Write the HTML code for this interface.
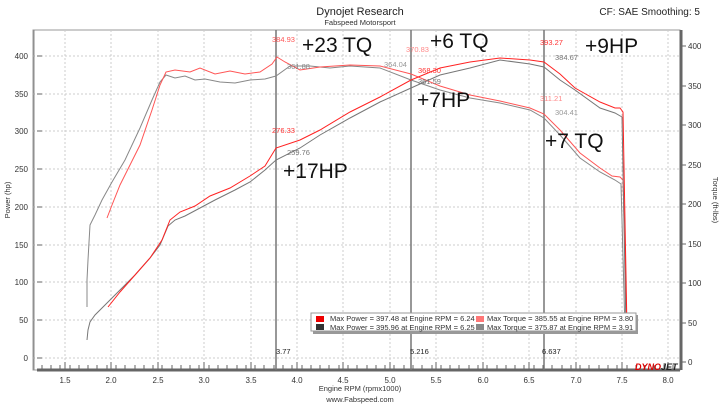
<!DOCTYPE html><html><head><style>body{margin:0;background:#fff}svg{display:block}text{font-family:"Liberation Sans",sans-serif}</style></head><body>
<svg width="720" height="404" viewBox="0 0 720 404" xmlns="http://www.w3.org/2000/svg">
<rect width="720" height="404" fill="#fff"/>
<text x="360" y="15" font-size="11" text-anchor="middle" fill="#222">Dynojet Research</text>
<text x="360" y="25" font-size="7.5" text-anchor="middle" fill="#333">Fabspeed Motorsport</text>
<text x="700" y="15" font-size="10" text-anchor="end" fill="#222">CF: SAE Smoothing: 5</text>
<rect x="33" y="30" width="647" height="340" fill="none" stroke="#999" stroke-width="1"/>
<g stroke="#ccc" stroke-dasharray="2,2" stroke-width="1">
<line x1="65" y1="30" x2="65" y2="370"/><line x1="111" y1="30" x2="111" y2="370"/><line x1="158" y1="30" x2="158" y2="370"/><line x1="204" y1="30" x2="204" y2="370"/><line x1="251" y1="30" x2="251" y2="370"/><line x1="297" y1="30" x2="297" y2="370"/><line x1="343" y1="30" x2="343" y2="370"/><line x1="390" y1="30" x2="390" y2="370"/><line x1="436" y1="30" x2="436" y2="370"/><line x1="483" y1="30" x2="483" y2="370"/><line x1="529" y1="30" x2="529" y2="370"/><line x1="576" y1="30" x2="576" y2="370"/><line x1="622" y1="30" x2="622" y2="370"/><line x1="668" y1="30" x2="668" y2="370"/>
<line x1="33" y1="56" x2="680" y2="56"/><line x1="33" y1="94" x2="680" y2="94"/><line x1="33" y1="131" x2="680" y2="131"/><line x1="33" y1="169" x2="680" y2="169"/><line x1="33" y1="207" x2="680" y2="207"/><line x1="33" y1="245" x2="680" y2="245"/><line x1="33" y1="282" x2="680" y2="282"/><line x1="33" y1="320" x2="680" y2="320"/><line x1="33" y1="358" x2="680" y2="358"/>
</g>
<g font-size="8" fill="#333" text-anchor="end">
<text x="28" y="59">400</text><text x="28" y="97">350</text><text x="28" y="134">300</text><text x="28" y="172">250</text><text x="28" y="210">200</text><text x="28" y="248">150</text><text x="28" y="285">100</text><text x="28" y="323">50</text><text x="28" y="361">0</text>
</g>
<g font-size="8" fill="#333">
<text x="688" y="49">400</text><text x="688" y="89">350</text><text x="688" y="128">300</text><text x="688" y="168">250</text><text x="688" y="207">200</text><text x="688" y="247">150</text><text x="688" y="286">100</text><text x="688" y="326">50</text><text x="688" y="365">0</text>
</g>
<g font-size="8" fill="#333" text-anchor="middle">
<text x="65" y="383">1.5</text><text x="111" y="383">2.0</text><text x="158" y="383">2.5</text><text x="204" y="383">3.0</text><text x="251" y="383">3.5</text><text x="297" y="383">4.0</text><text x="343" y="383">4.5</text><text x="390" y="383">5.0</text><text x="436" y="383">5.5</text><text x="483" y="383">6.0</text><text x="529" y="383">6.5</text><text x="576" y="383">7.0</text><text x="622" y="383">7.5</text><text x="668" y="383">8.0</text>
<text x="360" y="391" font-size="7.5">Engine RPM (rpmx1000)</text>
<text x="360" y="402" font-size="7.5">www.Fabspeed.com</text>
</g>
<text transform="translate(10,200) rotate(-90)" font-size="7.5" text-anchor="middle" fill="#333">Power (hp)</text>
<text transform="translate(713,200) rotate(90)" font-size="7.5" text-anchor="middle" fill="#333">Torque (ft-lbs)</text>
<line x1="37" y1="370" x2="680" y2="370" stroke="#666" stroke-width="3"/>
<line x1="681" y1="30" x2="681" y2="370" stroke="#666" stroke-width="3"/>
<line x1="34" y1="30" x2="34" y2="370" stroke="#888" stroke-width="1"/>
<g stroke="#666" stroke-width="1">
<path d="M37 56h5M37 94h5M37 131h5M37 169h5M37 207h5M37 245h5M37 282h5M37 320h5M37 358h5"/>
<path d="M680 46h6M680 86h6M680 125h6M680 165h6M680 204h6M680 244h6M680 283h6M680 323h6M680 362h6"/>
<path d="M42 369v-4M51 369v-4M60 369v-4M70 369v-4M79 369v-4M88 369v-4M97 369v-4M107 369v-4M116 369v-4M125 369v-4M135 369v-4M144 369v-4M153 369v-4M162 369v-4M172 369v-4M181 369v-4M190 369v-4M199 369v-4M209 369v-4M218 369v-4M227 369v-4M237 369v-4M246 369v-4M255 369v-4M264 369v-4M274 369v-4M283 369v-4M292 369v-4M302 369v-4M311 369v-4M320 369v-4M329 369v-4M339 369v-4M348 369v-4M357 369v-4M367 369v-4M376 369v-4M385 369v-4M394 369v-4M404 369v-4M413 369v-4M422 369v-4M432 369v-4M441 369v-4M450 369v-4M459 369v-4M469 369v-4M478 369v-4M487 369v-4M497 369v-4M506 369v-4M515 369v-4M524 369v-4M534 369v-4M543 369v-4M552 369v-4M562 369v-4M571 369v-4M580 369v-4M589 369v-4M599 369v-4M608 369v-4M617 369v-4M627 369v-4M636 369v-4M645 369v-4M654 369v-4M664 369v-4M673 369v-4"/>
<path d="M65 369v-7M111 369v-7M158 369v-7M204 369v-7M251 369v-7M297 369v-7M343 369v-7M390 369v-7M436 369v-7M483 369v-7M529 369v-7M576 369v-7M622 369v-7M668 369v-7"/>
</g>
<g stroke="#777" stroke-width="1.5">
<line x1="276" y1="30" x2="276" y2="370"/><line x1="411" y1="30" x2="411" y2="370"/><line x1="544" y1="30" x2="544" y2="370"/>
</g>
<g fill="none" stroke-width="1">
<path stroke="#888" d="M87 307 L87 280 L88 260 L90 225 L95 215 L102 200 L112 182 L125 160 L140 128 L152 100 L160 82 L166 75 L175 78 L185 76 L195 80 L205 79 L220 82 L235 83 L250 80 L265 79 L276 76 L290 66 L310 66 L330 68 L350 66 L380 68 L411 80 L440 90 L470 98 L500 103 L530 110 L544 118 L560 135 L580 158 L600 172 L615 180 L621 184 L625 330"/>
<path stroke="#f55" d="M107 218 L112 205 L120 185 L130 165 L140 145 L152 110 L160 85 L166 72 L175 70 L190 72 L200 68 L215 74 L230 71 L245 74 L260 72 L272 64 L277 57 L285 62 L300 70 L320 67 L350 65 L380 66 L411 74 L440 86 L470 95 L500 101 L530 108 L544 114 L560 130 L580 153 L600 168 L612 176 L620 177 L623 180 L627 330"/>
<path stroke="#777" d="M87 340 L88 330 L90 322 L95 315 L105 305 L120 290 L135 275 L150 258 L160 245 L168 226 L175 220 L185 216 L200 208 L215 200 L235 190 L250 182 L265 170 L276 160 L300 148 L320 135 L350 118 L380 102 L411 88 L440 75 L470 68 L500 60 L530 64 L544 67 L560 80 L575 90 L600 108 L615 113 L622 117 L626 330"/>
<path stroke="#f22" d="M108 307 L120 292 L135 275 L150 258 L162 240 L170 220 L180 212 L195 206 L210 196 L230 188 L250 176 L265 166 L276 148 L300 140 L320 130 L350 112 L380 97 L411 80 L440 68 L470 62 L500 58 L530 60 L544 62 L560 74 L575 88 L600 102 L615 108 L620 108 L623 112 L627 330"/>
</g>
<g font-size="7.5">
<text x="272" y="42" fill="#f55">384.93</text><text x="287" y="69" fill="#888">361.88</text>
<text x="272" y="133" fill="#f33">276.33</text><text x="287" y="155" fill="#777">259.76</text>
<text x="406" y="52" fill="#f88">370.83</text><text x="384" y="67" fill="#999">364.04</text>
<text x="418" y="73" fill="#f33">368.30</text><text x="418" y="84" fill="#777">361.59</text>
<text x="540" y="45" fill="#f33">393.27</text><text x="555" y="60" fill="#777">384.67</text>
<text x="540" y="101" fill="#f88">311.21</text><text x="555" y="115" fill="#999">304.41</text>
</g>
<g font-size="21" fill="#111">
<text x="302" y="52">+23 TQ</text><text x="430" y="48">+6 TQ</text><text x="585" y="53">+9HP</text>
<text x="417" y="107">+7HP</text><text x="545" y="148">+7 TQ</text><text x="283" y="178">+17HP</text>
</g>
<g font-size="7.5" fill="#222"><text x="276" y="354">3.77</text><text x="410" y="354">5.216</text><text x="542" y="354">6.637</text></g>
<rect x="313" y="315" width="325" height="19" fill="#999"/>
<rect x="311" y="313" width="325" height="18" fill="#fff" stroke="#999"/>
<g font-size="7.5" fill="#333">
<rect x="316" y="316" width="8" height="6" fill="#e00"/><rect x="316" y="324" width="8" height="6" fill="#333"/>
<text x="330" y="321">Max Power = 397.48 at Engine RPM = 6.24</text><text x="330" y="330">Max Power = 395.96 at Engine RPM = 6.25</text>
<rect x="476" y="316" width="8" height="6" fill="#f77"/><rect x="476" y="324" width="8" height="6" fill="#888"/>
<text x="487" y="321">Max Torque = 385.55 at Engine RPM = 3.80</text><text x="487" y="330">Max Torque = 375.87 at Engine RPM = 3.91</text>
</g>
<text x="635" y="370" font-size="9" font-weight="bold" font-style="italic" fill="#d00">DYNO<tspan fill="#222">JET</tspan></text>
</svg></body></html>
